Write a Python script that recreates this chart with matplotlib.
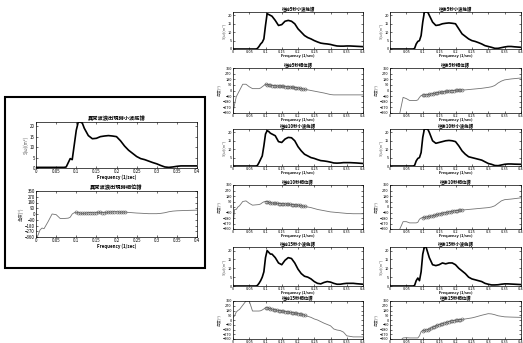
import numpy as np
import matplotlib
matplotlib.use("Agg")
import matplotlib.pyplot as plt
from matplotlib.patches import Rectangle

plt.rcParams['font.family'] = ['Noto Sans CJK TC', 'DejaVu Sans']

# frequency grids (1/sec)
e_freq = [0, 0.07, 0.075, 0.08, 0.085, 0.09, 0.095, 0.1, 0.105, 0.11, 0.115, 0.12, 0.13, 0.14, 0.15,
          0.16, 0.17, 0.18, 0.19, 0.2, 0.21, 0.22, 0.23, 0.24, 0.25, 0.26, 0.27, 0.28, 0.29, 0.3,
          0.31, 0.32, 0.33, 0.34, 0.35, 0.36, 0.37, 0.38, 0.4]
p_freq = [0, 0.005, 0.01, 0.015, 0.02, 0.03, 0.04, 0.05, 0.06, 0.07, 0.08, 0.085, 0.09, 0.095,
          0.1, 0.105, 0.11, 0.115, 0.12, 0.125, 0.13, 0.135, 0.14, 0.145, 0.15, 0.155, 0.16, 0.165,
          0.17, 0.175, 0.18, 0.185, 0.19, 0.195, 0.2, 0.205, 0.21, 0.215, 0.22,
          0.23, 0.24, 0.25, 0.26, 0.28, 0.3, 0.31, 0.32, 0.33, 0.34, 0.35, 0.37, 0.4]
mark_lo, mark_hi = 0.1, 0.22

# wavelet energy spectra S(w)
e_now = [0.3, 0.3, 0.5, 2.5, 4.5, 4, 11, 18, 22, 22, 21.5, 19, 15.5, 14, 14.2, 15, 15.3, 15.5, 15.3, 15,
         13, 10.5, 8.5, 7, 5.5, 4.5, 4, 3.3, 2.6, 2, 1.2, 0.5, 0.3, 0.5, 0.8, 1, 1, 1, 1]
e_f5 = [0, 0, 0.3, 1.5, 3, 4, 6, 14, 21, 20.5, 20, 19.5, 17, 14, 14.5, 16.5, 17, 16.5, 15, 12,
        10, 8, 6.8, 6, 5, 4.2, 3.5, 3.2, 3, 2.7, 2.2, 1.8, 1.7, 1.7, 1.8, 1.8, 1.7, 1.6, 1.4]
e_b5 = [0, 0, 0.3, 3, 4.5, 5, 8, 16, 22, 22, 22, 20, 16, 14, 14.3, 15, 15.3, 15.5, 15.3, 15,
        12, 9, 7.5, 6, 5, 4.5, 3.8, 3, 2, 1.5, 1, 0.4, 0.4, 0.8, 1.2, 1.5, 1.5, 1.3, 1]
e_f10 = [0, 0, 0.3, 2, 4, 6, 12, 19, 21, 20.5, 19.5, 19, 18, 14.5, 14, 16, 17, 16.8, 15, 11.5,
         9, 7, 6, 5, 4.5, 3.8, 3.2, 3, 2.7, 2.3, 1.8, 1.7, 1.8, 2, 2, 2, 1.9, 1.8, 1.5]
e_b10 = [0, 0, 0.3, 3, 4.5, 5, 8, 17, 22, 22, 22, 20, 15, 13.5, 14, 14.5, 15, 15.2, 15, 14.5,
         12, 9, 7, 5.5, 5, 4.5, 4, 3.5, 2.5, 1.5, 1, 0.3, 0.2, 0.6, 1, 1.2, 1.2, 1.1, 1]
e_f15 = [0, 0, 0.3, 1.5, 3, 5, 8, 16, 20, 19, 18, 18, 16, 13, 12, 14.5, 16, 15.5, 13, 9.5,
         7, 5.5, 5, 4, 2.5, 1.5, 1.2, 2, 2.5, 2.2, 1.5, 1, 1, 1.3, 1.5, 1.5, 1.5, 1.3, 1]
e_b15 = [0, 0, 0.3, 3, 4.5, 3, 8, 18, 22, 22, 19, 16, 12, 11.5, 12, 13, 12.5, 13, 13, 12,
         10, 8.5, 7, 5, 4, 3.5, 3, 2.5, 1.5, 1, 0.6, 0.6, 0.7, 1, 1.2, 1.2, 1.1, 1, 0.8]

# phase spectra (degrees)
p_now = [-400, -330, -250, -220, -230, -120, 0, -10, -70, -70, -65, -50, 0, 20,
         25, 20, 15, 10, 12, 15, 20, 22, 20, 18, 20, 25, 25, 22, 20, 25, 28, 30, 32, 35, 35, 30, 28, 30, 30,
         25, 20, 15, 12, 5, 5, 10, 20, 35, 45, 50, 55, 60]
p_f5 = [-350, -220, -100, -50, 0, 100, 100, 60, 30, 30, 30, 40, 60, 80,
        100, 95, 90, 85, 80, 78, 75, 72, 70, 70, 68, 65, 62, 60, 58, 55, 52, 50, 48, 45, 40, 35, 30, 25, 20,
        10, 0, -10, -20, -40, -65, -70, -70, -70, -70, -70, -70, -70]
p_b5 = [-400, -400, -400, -400, -400, -360, -110, -130, -160, -160, -160, -150, -110, -80,
        -75, -70, -68, -65, -60, -55, -50, -45, -40, -35, -30, -28, -25, -20, -15, -12, -10, -5, 0, 0, 2, 5, 5, 6, 8,
        10, 15, 20, 25, 35, 50, 60, 80, 120, 150, 170, 185, 200]
p_f10 = [-300, -40, -40, 0, 20, 90, 100, 60, 30, 35, 40, 50, 70, 85,
         90, 85, 80, 70, 65, 62, 60, 58, 56, 55, 54, 52, 50, 48, 45, 42, 40, 38, 35, 32, 30, 25, 20, 15, 10,
         0, -10, -25, -40, -60, -80, -85, -90, -95, -100, -105, -110, -110]
p_b10 = [-400, -400, -400, -400, -400, -360, -240, -240, -260, -260, -260, -250, -200, -180,
         -175, -170, -165, -160, -155, -150, -145, -138, -130, -122, -115, -108, -100, -95, -90, -85, -80, -75,
         -70, -65, -60, -58, -55, -52, -50,
         -45, -40, -35, -30, -20, -10, 0, 20, 60, 100, 120, 130, 150]
p_f15 = [50, 80, 150, 180, 200, 280, 360, 360, 170, 170, 170, 175, 190, 210,
         230, 230, 225, 215, 205, 195, 190, 185, 180, 175, 170, 165, 160, 155, 150, 145, 140, 135, 130, 125,
         120, 115, 110, 100, 90,
         70, 50, 20, 0, -60, -110, -170, -190, -200, -230, -300, -320, -320]
p_b15 = [-400, -400, -400, -400, -400, -400, -340, -335, -340, -340, -340, -340, -300, -220,
         -200, -195, -190, -180, -170, -155, -140, -125, -110, -100, -90, -80, -70, -60, -50, -40, -30, -20,
         -15, -10, -5, 0, 5, 8, 10,
         20, 30, 40, 55, 90, 120, 115, 100, 80, 70, 60, 55, 50]

W, H = 523, 343
fig = plt.figure(figsize=(W / 100, H / 100), dpi=100)


def box(x0, y0, x1, y1):
    # pixel box (top-left origin) -> figure fraction rect
    return [x0 / W, 1 - y1 / H, (x1 - x0) / W, (y1 - y0) / H]


def style(ax, fs):
    ax.set_xlim(0, 0.4)
    ax.set_xticks([0, 0.05, 0.1, 0.15, 0.2, 0.25, 0.3, 0.35, 0.4])
    ax.set_xticklabels(['0', '0.05', '0.1', '0.15', '0.2', '0.25', '0.3', '0.35', '0.4'])
    ax.tick_params(direction='in', labelsize=fs, length=1.5, width=0.4, pad=0.8, top=True, right=True)
    for s in ax.spines.values():
        s.set_linewidth(0.5)


def energy(rect, y, title, fs, tfs):
    ax = fig.add_axes(box(*rect))
    ax.plot(e_freq, y, color='black', lw=1.2)
    ax.set_ylim(0, 22)
    ax.set_yticks([0, 5, 10, 15, 20])
    style(ax, fs)
    ax.set_title(title, fontsize=tfs, pad=1.5, fontweight='bold')
    ax.set_xlabel('Frequency (1/sec)', fontsize=fs, labelpad=0, fontweight='bold')
    ax.set_ylabel('S(ω)(m²)', fontsize=fs, labelpad=1, color='0.35')


def phase(rect, y, title, fs, tfs, xlabel=True):
    ax = fig.add_axes(box(*rect))
    ax.plot(p_freq, y, color='0.45', lw=0.6)
    pf = np.array(p_freq)
    py = np.array(y)
    m = (pf >= mark_lo) & (pf <= mark_hi)
    ax.plot(pf[m], py[m], 'o', mfc='none', mec='0.35', ms=2.2, mew=0.4)
    ax.set_ylim(-360, 360)
    ax.set_yticks([-360, -270, -180, -90, 0, 90, 180, 270, 360])
    style(ax, fs)
    ax.set_title(title, fontsize=tfs, pad=1, fontweight='bold')
    if xlabel:
        ax.set_xlabel('Frequency (1/sec)', fontsize=fs, labelpad=0, fontweight='bold')
    ax.set_ylabel('角度(°)', fontsize=fs, labelpad=1, color='0.35')


# left highlighted panel
fig.patches.append(Rectangle((5 / W, 1 - 268 / H), 200 / W, 171 / H, transform=fig.transFigure,
                             fill=False, edgecolor='black', lw=1.5))
energy((36, 122, 197, 168), e_now, '異常波浪出現時小波能譜', 3.2, 3.8)
phase((36, 191, 197, 237), p_now, '異常波浪出現時相位譜', 3.2, 3.8)

# right grid: before (left column) and after (right column)
cols = [(233, 363), (390, 521)]
rows = [((12, 49), (68, 113)), ((129, 166), (185, 229)), ((247, 286), (301, 339))]
names = ['5', '10', '15']
e_sets = [(e_f5, e_b5), (e_f10, e_b10), (e_f15, e_b15)]
p_sets = [(p_f5, p_b5), (p_f10, p_b10), (p_f15, p_b15)]
for r, ((ey0, ey1), (py0, py1)) in enumerate(rows):
    for c, (x0, x1) in enumerate(cols):
        side = '往前' if c == 0 else '往後'
        energy((x0, ey0, x1, ey1), e_sets[r][c], side + names[r] + '秒小波能譜', 2.8, 3.2)
        # bottom row is cut off at the figure edge, its xlabel falls outside
        phase((x0, py0, x1, py1), p_sets[r][c], side + names[r] + '秒相位譜', 2.8, 3.2,
              xlabel=(r < 2))

fig.savefig('out.png', dpi=100)
